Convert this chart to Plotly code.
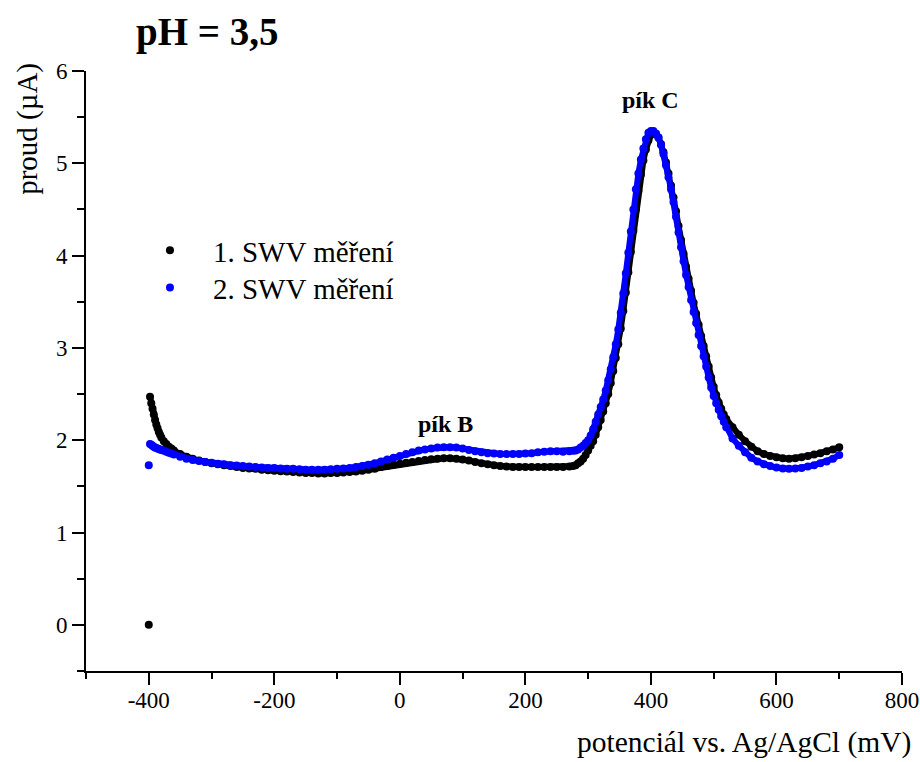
import plotly.graph_objects as go

# Potential (mV) – shared x values for both measurements
potential_mV = [
    -400, -398, -396, -394, -392, -390, -388, -386, -384, -382, -380, -376, -372, -368, -364, -360,
    -350, -340, -330, -320, -310, -300, -290, -280, -270, -260, -250, -240, -230, -220, -210, -200,
    -190, -180, -170, -160, -150, -140, -130, -120, -110, -100, -90, -80, -70, -60, -50, -40, -30,
    -20, -10, 0, 10, 20, 30, 40, 50, 60, 70, 80, 90, 100, 110, 120, 130, 140, 150, 160, 170, 180,
    190, 200, 210, 220, 230, 240, 250, 260, 270, 276,
    280, 284, 288, 292, 296, 300, 304, 308, 312, 316, 320, 324, 328, 332, 336, 340, 344, 348, 352,
    356, 360, 364, 368, 372, 376, 380, 384, 388, 392, 396, 400, 404, 408, 412, 416, 420, 424, 428,
    432, 436, 440, 444, 448, 452, 456, 460, 464, 468, 472, 476, 480, 484, 488, 492, 496, 500, 504,
    508, 512, 516, 520,
    530, 540, 550, 560, 570, 580, 590, 600, 610, 620, 630, 640, 650, 660, 670, 680, 690, 700,
]

# Current (uA), 1st SWV measurement (black)
current_swv1 = [
    0.00, 2.47, 2.40, 2.34, 2.28, 2.22, 2.17, 2.13, 2.09, 2.06, 2.03, 1.99, 1.96, 1.93, 1.91, 1.89,
    1.85, 1.82, 1.80, 1.78, 1.765, 1.75, 1.74, 1.73, 1.72, 1.71, 1.70, 1.695, 1.69, 1.68, 1.675, 1.67,
    1.665, 1.66, 1.655, 1.65, 1.645, 1.645, 1.64, 1.64, 1.645, 1.645, 1.65, 1.655, 1.66, 1.67, 1.68, 1.69, 1.71,
    1.72, 1.735, 1.745, 1.755, 1.765, 1.775, 1.785, 1.795, 1.80, 1.805, 1.805, 1.80, 1.79, 1.78, 1.765, 1.75, 1.74, 1.73, 1.72, 1.715, 1.71,
    1.71, 1.71, 1.71, 1.71, 1.71, 1.71, 1.71, 1.71, 1.715, 1.72,
    1.73, 1.75, 1.77, 1.80, 1.84, 1.89, 1.94, 1.99, 2.06, 2.14, 2.22, 2.31, 2.40, 2.50, 2.62, 2.75, 2.89, 3.04, 3.21,
    3.40, 3.60, 3.82, 4.04, 4.27, 4.50, 4.70, 4.88, 5.03, 5.15, 5.25, 5.31, 5.33, 5.32, 5.28, 5.21, 5.12, 5.01, 4.89,
    4.76, 4.63, 4.48, 4.32, 4.17, 4.02, 3.88, 3.75, 3.62, 3.49, 3.37, 3.25, 3.13, 3.02, 2.91, 2.80, 2.68, 2.58, 2.49,
    2.41, 2.34, 2.28, 2.23,
    2.14, 2.06, 1.99, 1.93, 1.88, 1.85, 1.83, 1.815, 1.805, 1.80, 1.805, 1.815, 1.83, 1.845, 1.86, 1.88, 1.90, 1.925,
]

# Current (uA), 2nd SWV measurement (blue)
current_swv2 = [
    1.73, 1.96, 1.95, 1.94, 1.93, 1.92, 1.915, 1.91, 1.905, 1.90, 1.895, 1.885, 1.875, 1.865, 1.855, 1.845,
    1.82, 1.80, 1.785, 1.775, 1.765, 1.755, 1.745, 1.74, 1.73, 1.725, 1.72, 1.715, 1.71, 1.705, 1.70, 1.70,
    1.695, 1.69, 1.69, 1.685, 1.68, 1.68, 1.68, 1.68, 1.685, 1.69, 1.695, 1.70, 1.71, 1.72, 1.735, 1.75, 1.77,
    1.79, 1.81, 1.83, 1.85, 1.87, 1.89, 1.90, 1.91, 1.92, 1.925, 1.925, 1.92, 1.91, 1.895, 1.88, 1.87, 1.86, 1.855, 1.85, 1.85, 1.85,
    1.85, 1.855, 1.86, 1.87, 1.875, 1.88, 1.88, 1.875, 1.88, 1.885,
    1.89, 1.90, 1.92, 1.94, 1.97, 2.00, 2.05, 2.12, 2.20, 2.28, 2.36, 2.44, 2.54, 2.65, 2.77, 2.90, 3.04, 3.20, 3.38,
    3.59, 3.81, 4.03, 4.26, 4.50, 4.72, 4.89, 5.04, 5.16, 5.26, 5.33, 5.35, 5.35, 5.32, 5.28, 5.20, 5.10, 4.98, 4.85,
    4.72, 4.58, 4.42, 4.25, 4.09, 3.94, 3.79, 3.66, 3.52, 3.39, 3.27, 3.14, 3.02, 2.91, 2.80, 2.68, 2.57, 2.48, 2.40,
    2.33, 2.26, 2.20, 2.14,
    2.02, 1.94, 1.87, 1.81, 1.77, 1.74, 1.72, 1.705, 1.695, 1.69, 1.695, 1.70, 1.715, 1.73, 1.75, 1.77, 1.80, 1.84,
]

series_names = ["1. SWV měření", "2. SWV měření"]
series_colors = ["#000000", "#0000FF"]

x_ticks = [-400, -200, 0, 200, 400, 600, 800]
x_ticktext = ["-400", "-200", "0", "200", "400", "600", "800"]
y_ticks = [0, 1, 2, 3, 4, 5, 6]

peak_labels = ["pík B", "pík C"]
peak_pos_x = [73, 400]
peak_pos_y = [2.18, 5.69]

FONT = "Liberation Serif"

fig = go.Figure()
legend_ids = ["legend", "legend2"]
for ys, name, col, lg in zip([current_swv1, current_swv2], series_names, series_colors, legend_ids):
    fig.add_trace(go.Scatter(
        x=potential_mV[1:], y=ys[1:], mode="lines",
        line=dict(color=col, width=6), showlegend=False, hoverinfo="skip"))
    fig.add_trace(go.Scatter(
        x=potential_mV, y=ys, mode="markers", name=name, legend=lg,
        marker=dict(color=col, size=8)))

for txt, px, py in zip(peak_labels, peak_pos_x, peak_pos_y):
    fig.add_annotation(x=px, y=py, xref="x", yref="y", text="<b>%s</b>" % txt,
                       showarrow=False, font=dict(family=FONT, size=24, color="black"))

fig.add_annotation(x=0.1495, y=1.065, xref="paper", yref="paper", text="<b>pH = 3,5</b>",
                   showarrow=False, font=dict(family=FONT, size=39, color="black"),
                   xanchor="center", yanchor="middle")
fig.add_annotation(x=1.013, y=-0.119, xref="paper", yref="paper",
                   text="potenciál vs. Ag/AgCl (mV)", showarrow=False,
                   font=dict(family=FONT, size=29.5, color="black"),
                   xanchor="right", yanchor="middle")
fig.add_annotation(x=-0.072, y=0.904, xref="paper", yref="paper",
                   text="proud (µA)", showarrow=False, textangle=-90,
                   font=dict(family=FONT, size=29, color="black"),
                   xanchor="center", yanchor="middle")

axis_common = dict(showline=True, linecolor="black", linewidth=2, ticks="outside",
                   ticklen=12, tickwidth=2, tickcolor="black", showgrid=False,
                   zeroline=False, mirror=False, automargin=False,
                   tickfont=dict(family=FONT, size=23, color="black"))

fig.update_xaxes(range=[-500, 800], tickvals=x_ticks, ticktext=x_ticktext,
                 ticklabelstandoff=-5,
                 minor=dict(dtick=100, tick0=0, ticks="outside", ticklen=6, tickwidth=2,
                            tickcolor="black", showgrid=False),
                 **axis_common)
fig.update_yaxes(range=[-0.5, 6], tickvals=y_ticks,
                 minor=dict(dtick=0.5, tick0=0, ticks="outside", ticklen=7, tickwidth=2,
                            tickcolor="black", showgrid=False),
                 **axis_common)

legend_common = dict(xanchor="left", yanchor="middle",
                     font=dict(family=FONT, size=29, color="black"),
                     bgcolor="rgba(0,0,0,0)", borderwidth=0, itemwidth=76)

fig.update_layout(
    width=920, height=762,
    margin=dict(l=86, r=18, t=71, b=91, autoexpand=False),
    paper_bgcolor="white", plot_bgcolor="white",
    font=dict(family=FONT, color="black"),
    legend=dict(x=0.0502, y=0.701, **legend_common),
    legend2=dict(x=0.0502, y=0.639, **legend_common),
    showlegend=True,
)

fig.write_html(
    "out.html",
    config={"displayModeBar": False},
    post_script="document.body.style.margin='0';document.body.style.overflow='hidden';",
)
